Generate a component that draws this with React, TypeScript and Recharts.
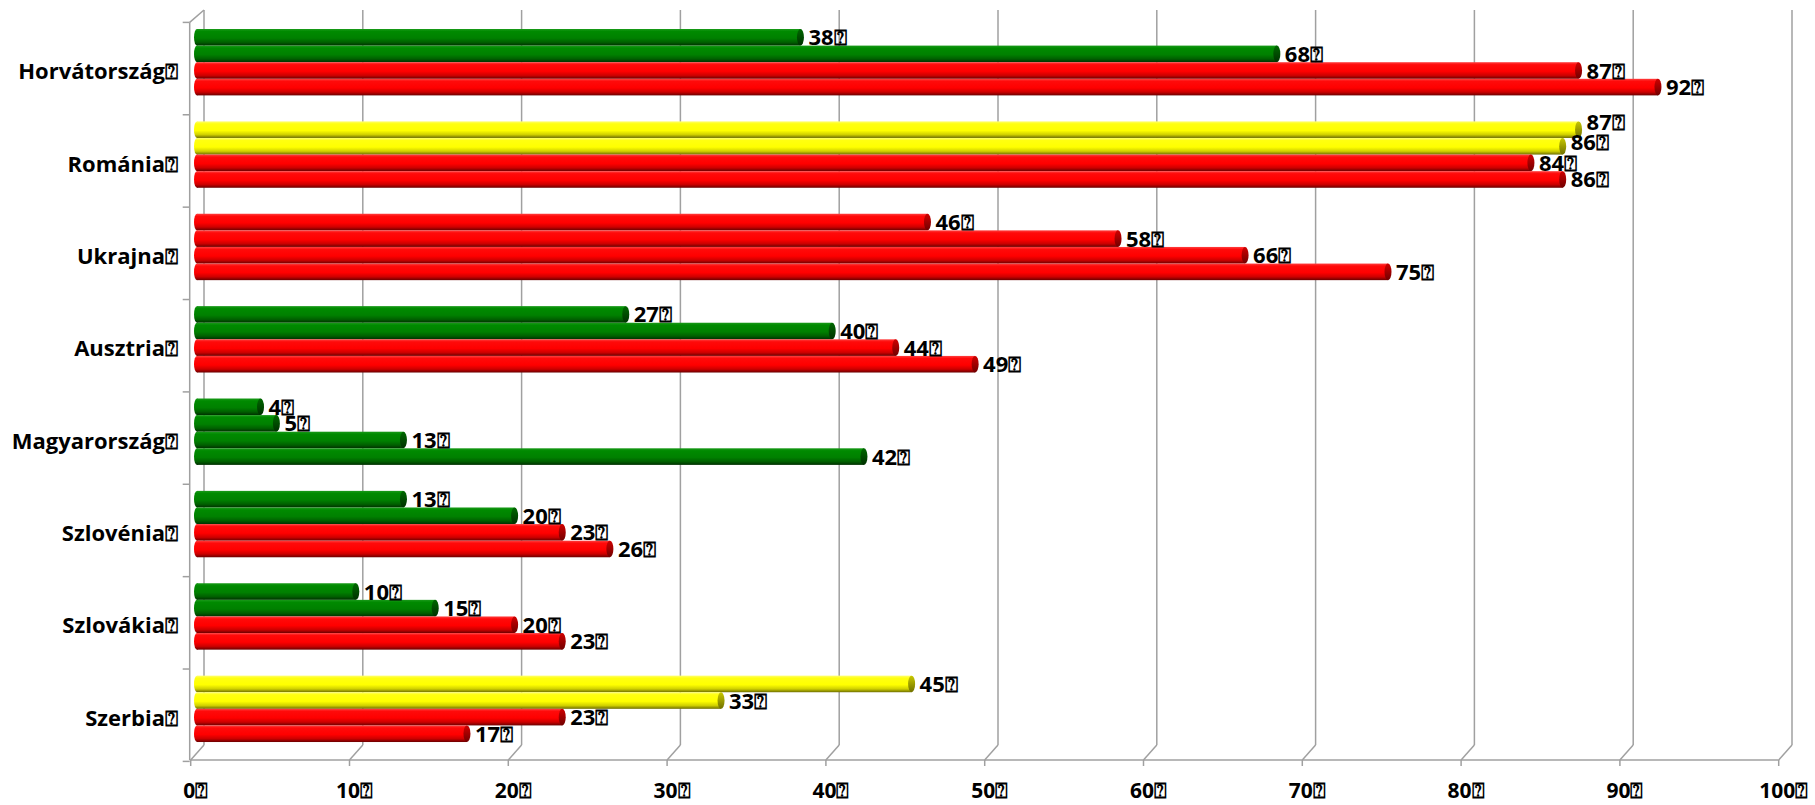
import React from 'react';
import { BarChart, Bar, XAxis, YAxis, CartesianGrid, LabelList } from 'recharts';

// categories, top to bottom
const countries = ['Horvátország', 'Románia', 'Ukrajna', 'Ausztria', 'Magyarország', 'Szlovénia', 'Szlovákia', 'Szerbia'];

// four bars per country, top bar first
const series1 = [38, 87, 46, 27, 4, 13, 10, 45];
const series2 = [68, 86, 58, 40, 5, 20, 15, 33];
const series3 = [87, 84, 66, 44, 13, 23, 20, 23];
const series4 = [92, 86, 75, 49, 42, 26, 23, 17];

// g = green, r = red, y = yellow
const colors1 = ['g', 'y', 'r', 'g', 'g', 'g', 'g', 'y'];
const colors2 = ['g', 'y', 'r', 'g', 'g', 'g', 'g', 'y'];
const colors3 = ['r', 'r', 'r', 'r', 'g', 'r', 'r', 'r'];
const colors4 = ['r', 'r', 'r', 'r', 'g', 'r', 'r', 'r'];

const xTicks = [0, 10, 20, 30, 40, 50, 60, 70, 80, 90, 100];
const MARK = '\u2370';

const data = countries.map((name, i) => ({
  name,
  v1: series1[i],
  v2: series2[i],
  v3: series3[i],
  v4: series4[i],
  c1: colors1[i],
  c2: colors2[i],
  c3: colors3[i],
  c4: colors4[i],
}));

const W = 1815;
const H = 805;
const TOP = 16;
const X_AXIS_H = 50;
const Y_AXIS_W = 197;
const RIGHT = 30;
const PLOT_W = W - Y_AXIS_W - RIGHT;
const BAND = (H - TOP - X_AXIS_H) / countries.length;
const FRONT_Y = 760;
const FRONT_DX = -6.3;
const BACK_DX = 7;
const BACK_TOP = 10;
const BACK_FLOOR = 745;
const AXIS_GREY = '#a0a0a0';
const FONT = '"Open Sans", sans-serif';

// labels that were moved up by hand in the original, per bar (px)
const labelNudge: Record<string, number[]> = { 'Románia': [-8, -4, 0, 0] };

const makeCylinder = (key: string) => (props: any) => {
  const { x, y, width, height, payload } = props;
  if (!width || width <= 0) return <g />;
  const k = payload[key];
  const cy = y + height / 2;
  return (
    <g>
      <ellipse cx={x} cy={cy} rx={3} ry={height / 2} fill={`url(#body-${k})`} />
      <rect x={x} y={y} width={width} height={height} fill={`url(#body-${k})`} />
      <ellipse cx={x + width} cy={cy} rx={3.5} ry={height / 2} fill={`url(#cap-${k})`} />
    </g>
  );
};

const makeLabel = (series: number) => (props: any) => {
  const { x, y, width, height, value, index } = props;
  const nudge = labelNudge[countries[index]]?.[series] ?? 0;
  return (
    <text
      x={x + width + 8}
      y={y + height / 2 - 1 + nudge}
      dominantBaseline="central"
      fontFamily={FONT}
      fontWeight={700}
      fontSize={22}
      fill="#000"
    >
      {value}
      {MARK}
    </text>
  );
};

const XTick = (props: any) => {
  const { x, payload, index } = props;
  const fx = x + FRONT_DX;
  const bx = x + BACK_DX;
  return (
    <g>
      {index === 0 && (
        <line x1={fx - 1} y1={FRONT_Y} x2={fx + PLOT_W} y2={FRONT_Y} stroke={AXIS_GREY} strokeWidth={1.5} />
      )}
      <line x1={fx} y1={FRONT_Y} x2={bx} y2={BACK_FLOOR} stroke={AXIS_GREY} strokeWidth={1.5} />
      <line x1={fx} y1={FRONT_Y} x2={fx} y2={FRONT_Y + 6} stroke={AXIS_GREY} strokeWidth={1.5} />
      <text
        x={fx + 5}
        y={790}
        textAnchor="middle"
        dominantBaseline="central"
        fontFamily={FONT}
        fontWeight={700}
        fontSize={21}
        fill="#000"
      >
        {payload.value}
        {MARK}
      </text>
    </g>
  );
};

const YTick = (props: any) => {
  const { y, payload, index } = props;
  const ax = Y_AXIS_W + FRONT_DX - 1;
  const tickY = y - BAND / 2 + 6.4;
  const last = index === countries.length - 1;
  return (
    <g>
      {index === 0 && (
        <>
          <line x1={ax} y1={tickY} x2={ax} y2={FRONT_Y} stroke={AXIS_GREY} strokeWidth={1.5} />
          <line x1={ax} y1={tickY} x2={Y_AXIS_W + BACK_DX} y2={BACK_TOP} stroke={AXIS_GREY} strokeWidth={1.5} />
        </>
      )}
      <line x1={ax - 7} y1={tickY} x2={ax} y2={tickY} stroke={AXIS_GREY} strokeWidth={1.5} />
      {last && <line x1={ax - 7} y1={tickY + BAND} x2={ax} y2={tickY + BAND} stroke={AXIS_GREY} strokeWidth={1.5} />}
      <text
        x={178}
        y={y + 8}
        textAnchor="end"
        dominantBaseline="central"
        fontFamily={FONT}
        fontWeight={700}
        fontSize={22}
        fill="#000"
      >
        {payload.value}
        {MARK}
      </text>
    </g>
  );
};

const GridLine = (props: any) => {
  const { x1 } = props;
  return (
    <line x1={x1 + BACK_DX} y1={BACK_TOP} x2={x1 + BACK_DX} y2={BACK_FLOOR} stroke={AXIS_GREY} strokeWidth={1.5} />
  );
};

const gradients: Record<string, { body: [number, string][]; cap: [number, string][] }> = {
  r: {
    body: [[0, '#ff4040'], [0.15, '#ff0a0a'], [0.55, '#ff0000'], [0.8, '#cc0000'], [1, '#6a0000']],
    cap: [[0, '#d00000'], [1, '#700000']],
  },
  g: {
    body: [[0, '#1a9a1a'], [0.15, '#008a00'], [0.55, '#008000'], [0.8, '#006000'], [1, '#003000']],
    cap: [[0, '#006800'], [1, '#003000']],
  },
  y: {
    body: [[0, '#ffff70'], [0.15, '#ffff10'], [0.55, '#ffff00'], [0.8, '#d0d000'], [1, '#6e6e00']],
    cap: [[0, '#c8c800'], [1, '#707000']],
  },
};

export default function App() {
  return (
    <div style={{ position: 'absolute', left: 0, top: 0, width: W, height: H, background: '#fff' }}>
      <BarChart
        width={W}
        height={H}
        data={data}
        layout="vertical"
        barGap={0}
        margin={{ top: TOP, right: RIGHT, bottom: 0, left: 0 }}
      >
        <defs>
          {Object.entries(gradients).map(([k, g]) => (
            <React.Fragment key={k}>
              <linearGradient id={`body-${k}`} x1="0" y1="0" x2="0" y2="1">
                {g.body.map(([o, c]) => (
                  <stop key={o} offset={o} stopColor={c} />
                ))}
              </linearGradient>
              <linearGradient id={`cap-${k}`} x1="0" y1="0" x2="0" y2="1">
                {g.cap.map(([o, c]) => (
                  <stop key={o} offset={o} stopColor={c} />
                ))}
              </linearGradient>
            </React.Fragment>
          ))}
        </defs>
        <CartesianGrid horizontal={false} vertical={GridLine} />
        <XAxis
          type="number"
          domain={[0, 100]}
          ticks={xTicks}
          interval={0}
          height={X_AXIS_H}
          axisLine={false}
          tickLine={false}
          tick={XTick}
        />
        <YAxis
          type="category"
          dataKey="name"
          width={Y_AXIS_W}
          axisLine={false}
          tickLine={false}
          interval={0}
          tick={YTick}
        />
        <Bar dataKey="v1" barSize={16.6} shape={makeCylinder('c1')} isAnimationActive={false}>
          <LabelList dataKey="v1" content={makeLabel(0)} />
        </Bar>
        <Bar dataKey="v2" barSize={16.6} shape={makeCylinder('c2')} isAnimationActive={false}>
          <LabelList dataKey="v2" content={makeLabel(1)} />
        </Bar>
        <Bar dataKey="v3" barSize={16.6} shape={makeCylinder('c3')} isAnimationActive={false}>
          <LabelList dataKey="v3" content={makeLabel(2)} />
        </Bar>
        <Bar dataKey="v4" barSize={16.6} shape={makeCylinder('c4')} isAnimationActive={false}>
          <LabelList dataKey="v4" content={makeLabel(3)} />
        </Bar>
      </BarChart>
    </div>
  );
}
